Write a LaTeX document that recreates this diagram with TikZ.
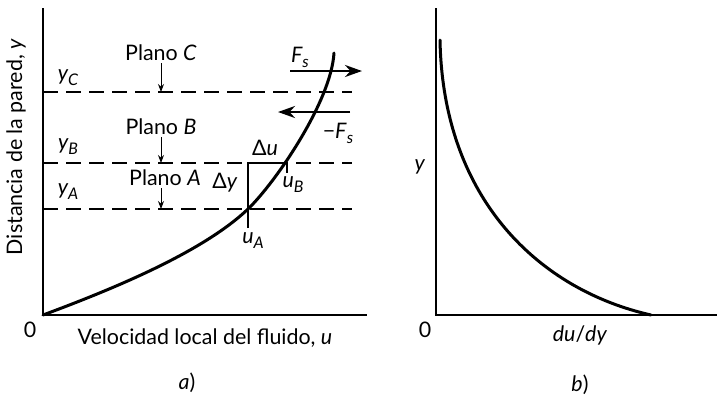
\documentclass[tikz,border=0pt]{standalone}
\usepackage{fontspec}
\setmainfont{Lato}
\usetikzlibrary{arrows.meta,positioning}

\newcommand{\lowidx}[1]{\raisebox{-0.45ex}{\footnotesize\itshape #1}}

\begin{document}
\begin{tikzpicture}[
  x=0.5pt, y=-0.5pt,
  every node/.style={font=\fontsize{10.7}{12}\selectfont, inner sep=1pt},
  axis/.style={line width=0.6pt},
  profile/.style={line width=1.5pt, line cap=round},
  plane/.style={line width=0.6pt, dash pattern=on 7.5pt off 4pt},
  planearrow/.style={-{Stealth[length=4pt, width=3pt]}, line width=0.5pt},
  force/.style={-{Stealth[length=8.5pt, width=6pt]}, line width=1.3pt},
  marker/.style={line width=0.6pt},
]
\useasboundingbox (0,0) rectangle (717,398);

% a) velocity profile
\coordinate (oa) at (43,315);
\coordinate (yatop) at (43,8);
\coordinate (xaend) at (367,315);
\draw[axis] (yatop) -- (oa) -- (xaend);
\node (za) at (30,330) {0};
\node (xla) at (205,338) {Velocidad local del fluido, \textit{u}};
\node[rotate=90] (yla) at (16,147) {Distancia de la pared, \textit{y}};
\node (capa) at (187,383) {\textit{a})};

\foreach \n/\yy in {C/92, B/163, A/209} {
  \coordinate (p\n l) at (43,\yy);
  \coordinate (p\n r) at (352,\yy);
  \coordinate (t\n) at (161,\yy);
  \draw[plane] (p\n l) -- (p\n r);
}
\node (lyC) at (68,78) {\itshape y\lowidx{C}};
\node (lyB) at (68,147) {\itshape y\lowidx{B}};
\node (lyA) at (68,192) {\itshape y\lowidx{A}};

\node (plC) at (161,53) {Plano \textit{C}};
\node (plB) at (161,127) {Plano \textit{B}};
\node (plA) at (165,178) {Plano \textit{A}};
\draw[planearrow] (plC.south -| tC) -- (tC);
\draw[planearrow] (plB.south -| tB) -- (tB);
\draw[planearrow] (plA.south -| tA) -- (tA);

\coordinate (ua) at (248,209);
\coordinate (ub) at (287,163);
\coordinate (tipa) at (334,53);
\draw[profile] (oa) .. controls (113,289) and (203,252) .. (ua)
  .. controls (275,183) and (331,102) .. (tipa);

\coordinate (fsl) at (290,71);
\coordinate (fsr) at (362,71);
\coordinate (nfsr) at (350,112);
\coordinate (nfsl) at (278,112);
\draw[force] (fsl) -- (fsr);
\draw[force] (nfsr) -- (nfsl);
\node (lfs) at (300,57) {\itshape F\lowidx{s}};
\node (lnfs) at (338,133) {−\textit{F}\lowidx{s}};

\coordinate (uaend) at (248,228);
\coordinate (ubend) at (287,173);
\coordinate (corner) at (248,163);
\draw[marker] (uaend) -- (corner) -- (ub) -- (ubend);
\node (ldu) at (265,148) {Δ\textit{u}};
\node (ldy) at (225,183) {Δ\textit{y}};
\node (lub) at (293,185) {\itshape u\lowidx{B}};
\node (lua) at (253,241) {\itshape u\lowidx{A}};

% b) velocity gradient
\coordinate (ob) at (436,315);
\coordinate (ybtop) at (436,8);
\coordinate (xbend) at (717,315);
\draw[axis] (ybtop) -- (ob) -- (xbend);
\coordinate (tipb) at (440,40);
\coordinate (endb) at (651,315);
\draw[profile] (tipb) .. controls (443,200) and (540,290) .. (endb);
\node (zb) at (425,330) {0};
\node (ylb) at (420,167) {\textit{y}};
\node (xlb) at (580,335) {\textit{du}/\textit{dy}};
\node (capb) at (580,385) {\textit{b})};
\end{tikzpicture}
\end{document}
